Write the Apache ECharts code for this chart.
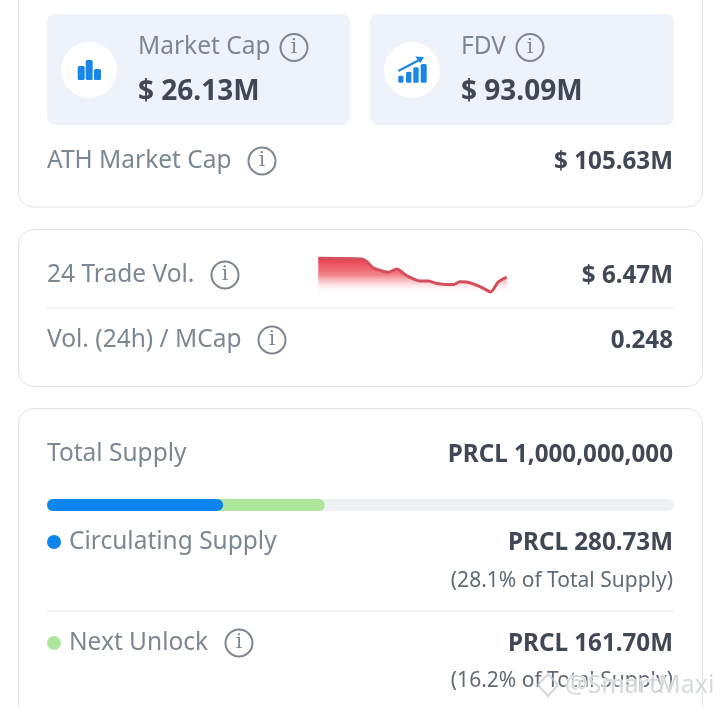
<!DOCTYPE html>
<html>
<head>
<meta charset="utf-8">
<style>html,body{margin:0;padding:0;background:#fff}#c{width:720px;height:707px;filter:blur(0.4px)}</style>
<script src="https://cdn.jsdelivr.net/npm/echarts@6/dist/echarts.min.js"></script>
</head>
<body>
<div id="c"></div>
<script>
// sparkline of 24h trade volume (hours, relative level)
const sparkHours = [0, 5.5, 6.2, 7, 8.9, 10, 11.3, 13, 14, 15.1, 17.2, 18, 18.9, 20.6, 21.97, 22.9, 24];
const sparkLevels = [91.7, 90, 83, 68, 57, 65, 48, 35, 35, 29, 26, 33, 32.5, 21, 7.5, 32, 45];
// supply shares, percent of total
const supplyNames = ['Circulating Supply', 'Next Unlock'];
const supplyShares = [28.1, 16.2];
const totalShare = 100;
// texts
const labels = ['Market Cap', 'FDV', 'ATH Market Cap', '24 Trade Vol.', 'Vol. (24h) / MCap', 'Total Supply'];
const values = ['$ 26.13M', '$ 93.09M', '$ 105.63M', '$ 6.47M', '0.248', 'PRCL 1,000,000,000', 'PRCL 280.73M', 'PRCL 161.70M'];
const notes = ['(28.1% of Total Supply)', '(16.2% of Total Supply)'];
const watermark = '@SmartMaxi';

const FONT = '"Noto Sans","Open Sans",sans-serif';
const GREY = '#7b8793', NOTE = '#5f6b78', DARK = '#404755', BLUE = '#0d84ee', GREEN = '#aee79c', ICON = '#1c86e6';

const T = (x, y, text, size, color, weight, align, extra) => ({
  type: 'text', x, y, z: 10,
  style: Object.assign({text, fill: color, font: `${weight} ${size}px ${FONT}`, align: align || 'left', verticalAlign: 'middle'}, extra || {})
});
const label = (x, y, t) => T(x, y, t, 24.5, GREY, 400);
const value = (x, y, t, s) => T(x, y, t, s || 24.2, DARK, 700, 'right');
const R = (x, y, w, h, r, fill, stroke) => ({type: 'rect', z: 1, shape: {x, y, width: w, height: h, r}, style: {fill: fill || 'transparent', stroke: stroke || null, lineWidth: stroke ? 1 : 0}});
const C = (cx, cy, r, fill) => ({type: 'circle', z: 3, shape: {cx, cy, r}, style: {fill}});
const info = (cx, cy) => [
  {type: 'circle', z: 5, shape: {cx, cy, r: 13.5}, style: {fill: 'transparent', stroke: '#7d8791', lineWidth: 2}},
  {type: 'text', x: cx, y: cy, z: 5, style: {text: 'i', fill: '#7d8791', font: '400 20px "DejaVu Serif",serif', align: 'center', verticalAlign: 'middle'}}
];
const bar = (x, y, w, h) => ({type: 'rect', z: 5, shape: {x, y, width: w, height: h, r: 1.5}, style: {fill: ICON}});

const graphics = [
  R(18.5, -30, 684, 237, 15, '#fff', '#dde4e8'),
  R(18.5, 229.5, 684, 157, 15, '#fff', '#dde4e8'),
  R(18.5, 408.5, 684, 340, 15, '#fff', '#dde4e8'),
  R(47, 14, 303, 111, 8, '#eef2fa'),
  R(370, 14, 304, 111, 8, '#eef2fa'),
  C(89, 70, 28, '#fff'), C(412, 70, 28, '#fff'),
  bar(77.7, 66, 7, 14), bar(85.7, 60, 7, 20), bar(94, 69, 7, 11),
  bar(398.3, 75.7, 5.2, 7), bar(406, 71.7, 5.4, 11), bar(413.3, 67.3, 5.4, 15.4), bar(420.7, 64, 6, 18.7),
  {type: 'polyline', z: 5, shape: {points: [[398.3, 71], [421, 59]]}, style: {stroke: ICON, lineWidth: 2, fill: null}},
  {type: 'polygon', z: 5, shape: {points: [[424, 57], [415, 56.5], [420.5, 63]]}, style: {fill: ICON}},
  label(138, 47.5, labels[0]), label(461, 47.5, labels[1]),
  T(138, 92.5, values[0], 28, DARK, 700), T(461, 92.5, values[1], 28, DARK, 700),
  label(47, 161.5, labels[2]), value(673, 162, values[2]),
  label(47, 275.5, labels[3]), value(673, 276, values[3]),
  {type: 'line', z: 2, shape: {x1: 47, y1: 308, x2: 674, y2: 308}, style: {stroke: '#e3e8ec', lineWidth: 1}},
  label(47, 340.5, labels[4]), value(673, 341, values[4]),
  label(47, 454.5, labels[5]), value(673, 455, values[5]),
  C(54, 542, 7, BLUE), label(69, 542.5, supplyNames[0]), value(673, 543, values[6]),
  T(673, 581.5, notes[0], 21, NOTE, 400, 'right'),
  {type: 'line', z: 2, shape: {x1: 47, y1: 611, x2: 674, y2: 611}, style: {stroke: '#e3e8ec', lineWidth: 1}},
  C(54, 643, 7, GREEN), label(69, 643.5, supplyNames[1]), value(673, 644, values[7]),
  T(673, 681.5, notes[1], 21, NOTE, 400, 'right'),
  T(565, 686, watermark, 25, 'rgba(200,205,212,0.75)', 400, 'left', {stroke: 'rgba(255,255,255,0.8)', lineWidth: 2}),
  {type: 'polyline', z: 11, shape: {points: [[538, 685], [548, 674], [558, 685], [548, 696], [538, 685]]}, style: {stroke: 'rgba(200,205,212,0.8)', lineWidth: 2, fill: null}}
];
[[294, 47.5], [530, 47.5], [262, 161], [225, 275], [272, 340], [239, 643]].forEach(p => graphics.push(...info(p[0], p[1])));

const chart = echarts.init(document.getElementById('c'), null, {renderer: 'canvas'});
chart.setOption({
  animation: false,
  backgroundColor: '#fff',
  graphic: graphics,
  grid: [
    {left: 318.3, width: 188.4, top: 255, height: 40},
    {left: 47, width: 627, top: 499, height: 12}
  ],
  xAxis: [
    {type: 'value', gridIndex: 0, min: 0, max: 24, show: false},
    {type: 'value', gridIndex: 1, min: 0, max: totalShare, show: false}
  ],
  yAxis: [
    {type: 'value', gridIndex: 0, min: 0, max: 100, show: false},
    {type: 'category', gridIndex: 1, data: ['Supply'], show: false}
  ],
  series: [
    {
      type: 'line', xAxisIndex: 0, yAxisIndex: 0, z: 5, symbol: 'none', smooth: 0.2,
      data: sparkHours.map((h, i) => [h, sparkLevels[i]]),
      lineStyle: {color: '#d24f5b', width: 3},
      areaStyle: {opacity: 1, color: new echarts.graphic.LinearGradient(0, 0, 0, 1, [
        {offset: 0, color: 'rgba(230,50,65,0.95)'},
        {offset: 0.45, color: 'rgba(238,85,95,0.75)'},
        {offset: 0.85, color: 'rgba(255,200,205,0.12)'},
        {offset: 1, color: 'rgba(255,255,255,0)'}
      ])}
    },
    {type: 'bar', xAxisIndex: 1, yAxisIndex: 1, z: 5, barWidth: 12, barGap: '-100%', data: [totalShare], itemStyle: {color: '#eef1f4', borderRadius: 6}},
    {type: 'bar', xAxisIndex: 1, yAxisIndex: 1, z: 6, barWidth: 12, barGap: '-100%', data: [supplyShares[0] + supplyShares[1]], itemStyle: {color: GREEN, borderRadius: 6}},
    {type: 'bar', xAxisIndex: 1, yAxisIndex: 1, z: 7, barWidth: 12, barGap: '-100%', data: [supplyShares[0]], itemStyle: {color: BLUE, borderRadius: 6}}
  ]
});
</script>
</body>
</html>
